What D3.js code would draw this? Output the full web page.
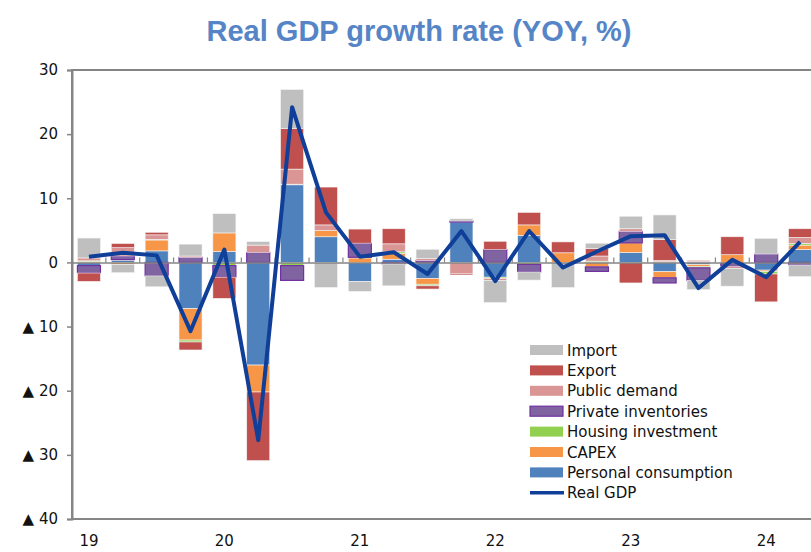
<!DOCTYPE html>
<html>
<head>
<meta charset="utf-8">
<script src="https://cdn.jsdelivr.net/npm/d3@7"></script>
<style>
body { margin: 0; background: #fff; }
text { font-family: "DejaVu Sans", Verdana, sans-serif; }
</style>
</head>
<body>
<script>
// quarters 2019Q1 .. 2024Q2
var quarters = ["19Q1","19Q2","19Q3","19Q4","20Q1","20Q2","20Q3","20Q4",
                "21Q1","21Q2","21Q3","21Q4","22Q1","22Q2","22Q3","22Q4",
                "23Q1","23Q2","23Q3","23Q4","24Q1","24Q2"];
var yearLabels = ["19","20","21","22","23","24"];
var yearQuarters = ["19Q1","20Q1","21Q1","22Q1","23Q1","24Q1"];
var yTicks = [30,20,10,0,-10,-20,-30,-40];

var personal = [-0.5,0.35,1.8,-7.2,1.7,-16.0,12.1,4.0,-3.0,0.5,-2.5,6.3,-2.3,4.2,0,0,1.55,-1.45,-0.35,0,-1.2,2.0];
var capex    = [0.1,-0.3,1.7,-4.9,2.9,-4.2,0.1,0.95,0.7,0.9,-0.9,0,0,1.65,1.5,-0.7,1.5,-0.95,-0.25,1.2,-0.25,0.7];
var housing  = [0.15,0.1,0.1,-0.3,-0.5,0,-0.5,0,0.1,0.25,-0.25,0,-0.2,-0.3,0,0.2,0,0.1,-0.25,-0.15,-0.35,0.25];
var invent   = [-1.15,0.55,-2.1,0.8,-1.8,1.55,-2.3,0,2.2,-0.25,0.3,0.15,2.0,-1.2,0,-0.7,1.8,-0.8,-1.95,-0.5,1.3,-0.4];
var publicD  = [0.45,1.3,0.7,0.2,0,1.15,2.35,0.9,0,1.25,0.3,-1.7,-0.3,0,0,0.8,0.4,0.2,0.15,-0.3,0,0.95];
var exportV  = [-1.3,0.65,0.4,-1.25,-3.3,-10.7,6.3,5.9,2.2,2.35,-0.5,-0.25,1.3,1.95,1.7,1.15,-3.2,3.3,0.15,2.8,-4.35,1.35];
var importV  = [3.1,-1.3,-1.7,1.85,3.0,0.55,6.1,-3.9,-1.5,-3.4,1.45,0.35,-3.45,-1.25,-3.9,0.85,1.95,3.8,-1.45,-2.75,2.45,-1.8];
var gdp      = [0.9,1.5,1.1,-10.7,2.0,-27.7,24.2,7.8,0.9,1.6,-1.8,4.9,-2.9,4.9,-0.8,1.7,4.1,4.25,-4.0,0.4,-2.3,3.2];

var keys = ["Personal consumption","CAPEX","Housing investment","Private inventories","Public demand","Export","Import"];
var colors = {"Personal consumption":"#4F81BD","CAPEX":"#F79646","Housing investment":"#92D050",
              "Private inventories":"#8064A2","Public demand":"#D99694","Export":"#C0504D","Import":"#BFBFBF"};
var series = [personal,capex,housing,invent,publicD,exportV,importV];

var rows = quarters.map(function(q,i){
  var r = {q:q};
  keys.forEach(function(k,j){ r[k] = series[j][i]; });
  return r;
});

var width = 811, height = 552;
var margin = {left:72,top:70,right:-6,bottom:33};

var svg = d3.select("body").append("svg").attr("width",width).attr("height",height);

var x = d3.scaleBand().domain(quarters)
          .range([margin.left, width - margin.right])
          .paddingInner(0.32).paddingOuter(0.16);
var y = d3.scaleLinear().domain([-40,30]).range([height - margin.bottom, margin.top]);

svg.append("text").attr("x",419).attr("y",41).attr("text-anchor","middle")
   .style("font-family","'Liberation Sans', Arial, sans-serif")
   .style("font-weight","bold").style("font-size","29px").attr("fill","#5585C6")
   .text("Real GDP growth rate (YOY, %)");

// frame
svg.append("rect").attr("x",margin.left).attr("y",y(30))
   .attr("width",width - margin.right - margin.left).attr("height",y(-40)-y(30))
   .attr("fill","none").attr("stroke","#858585").attr("stroke-width",2);

// y axis
var yAxis = d3.axisLeft(y).tickValues(yTicks).tickSize(5).tickPadding(9)
   .tickFormat(function(d){ return d < 0 ? "\u25B2 " + Math.abs(d) : d; });
var gy = svg.append("g").attr("transform","translate("+margin.left+",0)").call(yAxis);
gy.select(".domain").attr("stroke","#858585").attr("stroke-width",2);
gy.selectAll(".tick line").attr("stroke","#858585").attr("stroke-width",1.5);
gy.selectAll(".tick text").style("font-size","15px").attr("fill","#111");

var stack = d3.stack().keys(keys).offset(d3.stackOffsetDiverging);
var stacked = stack(rows);

svg.append("g").selectAll("g").data(stacked).join("g")
   .attr("fill",function(d){ return colors[d.key]; })
   .attr("stroke",function(d){ return d.key == "Private inventories" ? "#7030A0" : "#f4f4f4"; })
   .attr("stroke-width",function(d){ return d.key == "Private inventories" ? 1.2 : 0.6; })
   .selectAll("rect").data(function(d){ return d; }).join("rect")
   .attr("x",function(d){ return x(d.data.q); })
   .attr("width",x.bandwidth())
   .attr("y",function(d){ return y(Math.max(d[0],d[1])); })
   .attr("height",function(d){ return Math.abs(y(d[0]) - y(d[1])); });

// zero line with quarter ticks
var xAxis = d3.axisTop(x).tickSize(0).tickFormat("");
var gx = svg.append("g").attr("transform","translate(0,"+y(0)+")").call(xAxis);
gx.select(".domain").attr("stroke","#858585").attr("stroke-width",1.5);
gx.selectAll(".tick").remove();
gx.selectAll("line.qt").data(quarters.slice(1)).join("line").attr("class","qt")
   .attr("x1",function(d){ return x(d) - x.step()*x.paddingInner()/2; })
   .attr("x2",function(d){ return x(d) - x.step()*x.paddingInner()/2; })
   .attr("y1",0).attr("y2",-5).attr("stroke","#858585").attr("stroke-width",1.2);

// year labels
svg.append("g").selectAll("text").data(yearLabels).join("text")
   .attr("x",function(d,i){ return x(yearQuarters[i]) + x.bandwidth()/2; })
   .attr("y",546).attr("text-anchor","middle").style("font-size","15px").attr("fill","#111")
   .text(function(d){ return d; });

var line = d3.line()
   .x(function(d,i){ return x(quarters[i]) + x.bandwidth()/2; })
   .y(function(d){ return y(d); });
svg.append("path").attr("d",line(gdp)).attr("fill","none")
   .attr("stroke","#0F3F98").attr("stroke-width",4).attr("stroke-linejoin","round");

// legend
var legendItems = keys.slice().reverse().concat(["Real GDP"]);
var lg = svg.append("g").attr("transform","translate(530,350)");
var li = lg.selectAll("g").data(legendItems).join("g")
   .attr("transform",function(d,i){ return "translate(0,"+(i*20.4)+")"; });
li.each(function(d){
  var g = d3.select(this);
  if (d == "Real GDP") {
    g.append("line").attr("x1",0).attr("x2",34).attr("y1",0).attr("y2",0)
     .attr("stroke","#0F3F98").attr("stroke-width",3.5);
  } else {
    g.append("rect").attr("x",0).attr("y",-5).attr("width",33).attr("height",10)
     .attr("fill",colors[d])
     .attr("stroke",d == "Private inventories" ? "#7030A0" : "none").attr("stroke-width",1.2);
  }
  g.append("text").attr("x",37).attr("y",5.5).style("font-size","15px").attr("fill","#111").text(d);
});
</script>
</body>
</html>
